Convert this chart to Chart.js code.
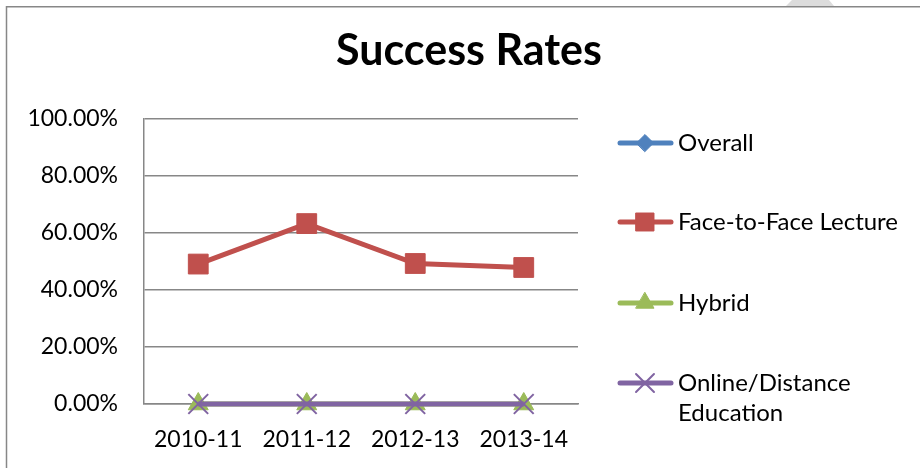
<!DOCTYPE html>
<html>
<head>
<meta charset="utf-8">
<script src="https://cdn.jsdelivr.net/npm/chart.js@4.4.0/dist/chart.umd.min.js"></script>
<style>
  html, body { margin: 0; padding: 0; background: #fff; }
  #wrap { width: 920px; height: 468px; position: relative; }
</style>
</head>
<body>
<div id="wrap"><canvas id="c" width="920" height="468"></canvas></div>
<script>
const categories = ['2010-11', '2011-12', '2012-13', '2013-14'];
const overall = [49.1, 63.3, 49.3, 47.9];
const faceToFace = [49.1, 63.3, 49.3, 47.9];
const hybrid = [0, 0, 0, 0];
const online = [0, 0, 0, 0];
const yTicks = [0, 20, 40, 60, 80, 100];
const seriesNames = ['Overall', 'Face-to-Face Lecture', 'Hybrid', ['Online/Distance', 'Education']];
const chartTitle = 'Success Rates';

const FONT = 'Lato, "Open Sans", sans-serif';
const GRID = '#878787';
const legendRadius = [8.5, 12.7, 10.4, 12.7];

const framePlugin = {
  id: 'frame',
  beforeDraw(chart) {
    const ctx = chart.ctx;
    ctx.save();
    ctx.fillStyle = '#fff';
    ctx.fillRect(0, 0, chart.width, chart.height);
    ctx.fillStyle = '#dcdcdc';
    ctx.beginPath();
    ctx.moveTo(786, 6); ctx.lineTo(792, 0); ctx.lineTo(829, 0); ctx.lineTo(834, 6);
    ctx.closePath(); ctx.fill();
    ctx.strokeStyle = GRID;
    ctx.lineWidth = 1.5;
    ctx.beginPath();
    ctx.moveTo(6.5, 480); ctx.lineTo(6.5, 6.75); ctx.lineTo(930, 6.75);
    ctx.stroke();
    ctx.fillStyle = '#000';
    ctx.font = 'bold 43px ' + FONT;
    ctx.textAlign = 'center';
    ctx.textBaseline = 'alphabetic';
    ctx.fillText(chartTitle, 469, 65);
    ctx.restore();
  },
  afterDraw(chart) {
    const ctx = chart.ctx;
    ctx.save();
    const ys = [143, 222, 303, 383];
    chart.data.datasets.forEach((ds, i) => {
      const y = ys[i];
      ctx.strokeStyle = ds.borderColor;
      ctx.lineWidth = 5;
      ctx.lineCap = 'round';
      ctx.beginPath();
      ctx.moveTo(620, y); ctx.lineTo(671, y);
      ctx.stroke();
      ctx.fillStyle = ds.pointBackgroundColor;
      ctx.strokeStyle = ds.pointBorderColor;
      ctx.lineWidth = ds.pointBorderWidth;
      Chart.helpers.drawPoint(ctx, {
        pointStyle: ds.pointStyle, radius: legendRadius[i], rotation: 0, borderWidth: ds.pointBorderWidth
      }, 645, y);
      ctx.fillStyle = '#000';
      ctx.font = '24px ' + FONT;
      ctx.textAlign = 'left';
      ctx.textBaseline = 'middle';
      const lines = Array.isArray(seriesNames[i]) ? seriesNames[i] : [seriesNames[i]];
      lines.forEach((t, k) => ctx.fillText(t, 678, y + k * 30));
    });
    ctx.restore();
  }
};

const mk = (label, data, color, style, radius, order, extra) => Object.assign({
  label: Array.isArray(label) ? label.join(' ') : label,
  data,
  borderColor: color,
  backgroundColor: color,
  pointBackgroundColor: color,
  pointBorderColor: color,
  pointStyle: style,
  pointRadius: radius,
  pointHoverRadius: radius,
  pointBorderWidth: 1,
  borderWidth: 5,
  tension: 0,
  clip: false,
  order
}, extra || {});

new Chart(document.getElementById('c'), {
  type: 'line',
  data: {
    labels: categories,
    datasets: [
      mk(seriesNames[0], overall, '#4F81BD', 'rectRot', 8, 3, { borderWidth: 3.5 }),
      mk(seriesNames[1], faceToFace, '#C0504D', 'rect', 14, 2),
      mk(seriesNames[2], hybrid, '#9BBB59', 'triangle', 11.5, 1),
      mk(seriesNames[3], online, '#8064A2', 'crossRot', 14, 0, { pointBorderWidth: 2 })
    ]
  },
  plugins: [framePlugin],
  options: {
    responsive: false,
    animation: false,
    devicePixelRatio: 1,
    layout: { padding: { left: 10, right: 342, top: 119, bottom: 0 } },
    plugins: {
      legend: { display: false },
      title: { display: false },
      tooltip: { enabled: false }
    },
    scales: {
      x: {
        offset: true,
        grid: { display: false, drawTicks: false },
        border: { display: true, color: GRID, width: 1.5 },
        ticks: { color: '#000', font: { family: FONT, size: 23 }, padding: 22, maxRotation: 0 },
        afterFit(s) { s.height = 64; }
      },
      y: {
        min: 0, max: 100,
        afterBuildTicks(s) { s.ticks = yTicks.map(v => ({ value: v })); },
        grid: { color: GRID, lineWidth: 1.5, drawTicks: false },
        border: { display: true, color: GRID, width: 1.5 },
        ticks: {
          color: '#000', font: { family: FONT, size: 23 }, padding: 26,
          callback: v => v.toFixed(2) + '%'
        },
        afterFit(s) { s.width = 134; }
      }
    }
  }
});
</script>
</body>
</html>
